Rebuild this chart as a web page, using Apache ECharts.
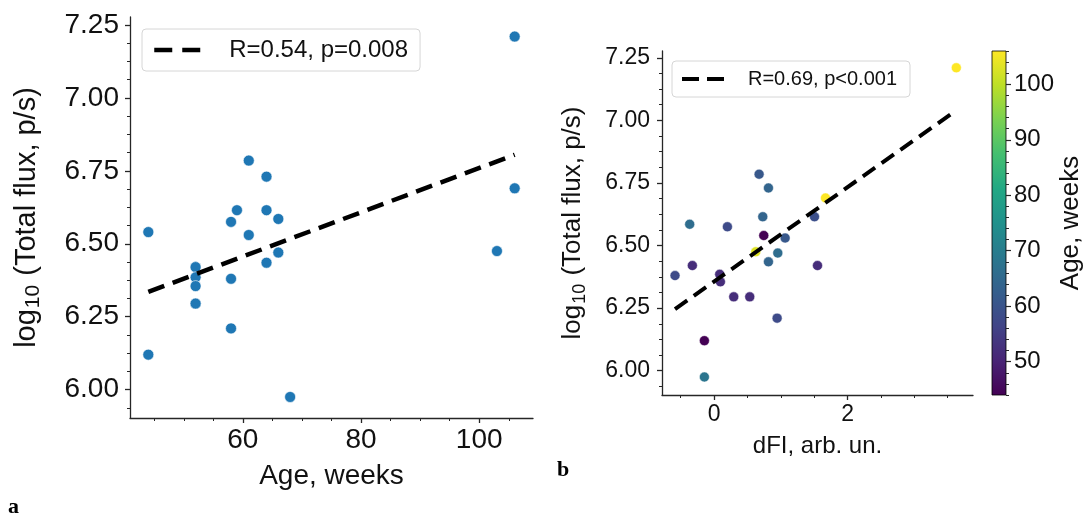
<!DOCTYPE html>
<html><head><meta charset="utf-8">
<script src="https://cdn.jsdelivr.net/npm/echarts@6/dist/echarts.min.js"></script>
<style>html,body{margin:0;padding:0;background:#fff}#c{width:1085px;height:519px}</style>
</head><body><div id="c"></div>
<script>
// ---- data ----
const ageWeeks = [106, 61, 64, 106, 64, 59, 66, 58, 44, 61, 103, 66, 64, 52, 52, 58, 52, 52, 52, 52, 58, 44, 68];
const dfi      = [3.63, 0.675, 0.815, 1.67, 0.73, 1.505, -0.365, 0.2, 0.745, 1.065, 0.625, 0.955, 0.815, -0.325, 1.55, -0.585, 0.085, 0.095, 0.295, 0.535, 0.945, -0.145, -0.145];
const logFlux  = [7.21, 6.785, 6.73, 6.69, 6.615, 6.615, 6.585, 6.575, 6.54, 6.53, 6.475, 6.47, 6.435, 6.42, 6.42, 6.38, 6.385, 6.355, 6.295, 6.295, 6.21, 6.12, 5.975];
const fitAgeX = [44, 106];
const fitAgeY = [6.335, 6.805];
const fitDfiX = [-0.585, 3.63];
const fitDfiY = [6.246, 7.04];
const legendA = 'R=0.54, p=0.008';
const legendB = 'R=0.69, p<0.001';
const yTicks = [6.00, 6.25, 6.50, 6.75, 7.00, 7.25];
const ageTicks = [60, 80, 100];
const dfiTicks = [0, 2];
const cbarTicks = [50, 60, 70, 80, 90, 100];

const viridis = ['#440154','#482475','#414487','#355f8d','#2a788e','#21918c','#22a884','#44bf70','#7ad151','#bddf26','#fde725'];
const FONT = '"Liberation Sans", Arial, sans-serif';
const INK = '#262626';

function minorTicks(lo, hi, step, majors) {
  const out = [];
  const start = Math.ceil(lo / step);
  for (let k = start; k * step <= hi + 1e-9; k++) {
    const v = +(k * step).toFixed(6);
    if (!majors.some(m => Math.abs(m - v) < 1e-9)) out.push(v);
  }
  return out;
}

const YMIN = 5.903, YMAX = 7.277;
const AXMIN = 40.9, AXMAX = 109.1;
const DXMIN = -0.78, DXMAX = 3.88;
const CMIN = 44, CMAX = 106;

function mainAxis(opts) {
  return Object.assign({
    type: 'value', splitLine: {show: false},
    axisLine: {show: true, onZero: false, lineStyle: {color: INK, width: 1.3}},
    axisTick: {show: true, length: 5, lineStyle: {color: INK, width: 1.3}},
    axisLabel: {color: '#111', fontFamily: FONT},
    nameTextStyle: {color: '#111', fontFamily: FONT}
  }, opts);
}
function minorAxis(opts) {
  return Object.assign({
    type: 'value', splitLine: {show: false},
    axisLine: {show: false, onZero: false}, axisLabel: {show: false},
    axisTick: {show: true, length: 3, lineStyle: {color: INK, width: 1}}
  }, opts);
}
function yTitle(fs, sub) {
  return {
    name: '{m|log}{s|10}{m| (Total flux, p/s)}',
    nameTextStyle: {
      color: '#111', fontFamily: FONT,
      rich: {
        m: {fontSize: fs, fontFamily: FONT, color: '#111', lineHeight: fs + 6, verticalAlign: 'middle'},
        s: {fontSize: sub, fontFamily: FONT, color: '#111', lineHeight: sub, verticalAlign: 'bottom', padding: [0, 1, 0, 1]}
      }
    }
  };
}

const gradStops = viridis.map((c, i) => ({offset: i / (viridis.length - 1), color: c}));

const option = {
  animation: false,
  backgroundColor: '#fff',
  grid: [
    {left: 130, top: 17, width: 403, height: 401},
    {left: 662, top: 51, width: 311, height: 344},
    {left: 992, top: 51, width: 17, height: 344, show: true,
     backgroundColor: new echarts.graphic.LinearGradient(0, 1, 0, 0, gradStops),
     borderColor: '#000', borderWidth: 0.8}
  ],
  xAxis: [
    mainAxis({gridIndex: 0, position: 'bottom', min: AXMIN, max: AXMAX,
      axisTick: {show: true, length: 5, customValues: ageTicks, lineStyle: {color: INK, width: 1.3}},
      axisLabel: {customValues: ageTicks, fontSize: 28, margin: 8, color: '#111', fontFamily: FONT},
      name: 'Age, weeks', nameLocation: 'middle', nameGap: 44,
      nameTextStyle: {fontSize: 28, color: '#111', fontFamily: FONT}}),
    mainAxis({gridIndex: 1, position: 'bottom', min: DXMIN, max: DXMAX,
      axisTick: {show: true, length: 5, customValues: dfiTicks, lineStyle: {color: INK, width: 1.3}},
      axisLabel: {customValues: dfiTicks, fontSize: 23, margin: 8, color: '#111', fontFamily: FONT},
      name: 'dFI, arb. un.', nameLocation: 'middle', nameGap: 39,
      nameTextStyle: {fontSize: 24, color: '#111', fontFamily: FONT}}),
    {gridIndex: 2, type: 'value', show: false, min: 0, max: 1},
    minorAxis({gridIndex: 0, position: 'bottom', min: AXMIN, max: AXMAX,
      axisTick: {show: true, length: 3, customValues: minorTicks(AXMIN, AXMAX, 5, ageTicks), lineStyle: {color: INK, width: 1}}}),
    minorAxis({gridIndex: 1, position: 'bottom', min: DXMIN, max: DXMAX,
      axisTick: {show: true, length: 3, customValues: minorTicks(DXMIN, DXMAX, 0.5, dfiTicks), lineStyle: {color: INK, width: 1}}})
  ],
  yAxis: [
    mainAxis(Object.assign({gridIndex: 0, position: 'left', min: YMIN, max: YMAX,
      axisTick: {show: true, length: 5, customValues: yTicks, lineStyle: {color: INK, width: 1.3}},
      axisLabel: {customValues: yTicks, fontSize: 28, margin: 11, color: '#111', fontFamily: FONT,
        formatter: v => v.toFixed(2)},
      nameLocation: 'middle', nameGap: 86, nameRotate: 90}, yTitle(29, 21))),
    mainAxis(Object.assign({gridIndex: 1, position: 'left', min: YMIN, max: YMAX,
      axisTick: {show: true, length: 5, customValues: yTicks, lineStyle: {color: INK, width: 1.3}},
      axisLabel: {customValues: yTicks, fontSize: 23, margin: 12, color: '#111', fontFamily: FONT,
        formatter: v => v.toFixed(2)},
      nameLocation: 'middle', nameGap: 73, nameRotate: 90}, yTitle(26, 18))),
    {gridIndex: 2, type: 'value', position: 'right', min: CMIN, max: CMAX,
      splitLine: {show: false}, axisLine: {show: false, onZero: false},
      axisTick: {show: true, length: 5, customValues: cbarTicks, lineStyle: {color: INK, width: 1.2}},
      axisLabel: {customValues: cbarTicks, fontSize: 24, margin: 8, color: '#111', fontFamily: FONT},
      name: 'Age, weeks', nameLocation: 'middle', nameGap: 52, nameRotate: 90,
      nameTextStyle: {fontSize: 26, color: '#111', fontFamily: FONT}},
    minorAxis({gridIndex: 0, position: 'left', min: YMIN, max: YMAX,
      axisTick: {show: true, length: 3, customValues: minorTicks(YMIN, YMAX, 0.0625, yTicks), lineStyle: {color: INK, width: 1}}}),
    minorAxis({gridIndex: 1, position: 'left', min: YMIN, max: YMAX,
      axisTick: {show: true, length: 3, customValues: minorTicks(YMIN, YMAX, 0.0625, yTicks), lineStyle: {color: INK, width: 1}}}),
    minorAxis({gridIndex: 2, position: 'right', min: CMIN, max: CMAX,
      axisTick: {show: true, length: 3, customValues: minorTicks(CMIN, CMAX, 2, cbarTicks), lineStyle: {color: INK, width: 1}}})
  ],
  visualMap: [{
    type: 'continuous', show: false, seriesIndex: 1, dimension: 2,
    min: CMIN, max: CMAX, inRange: {color: viridis}
  }],
  legend: [
    {data: [legendA], left: 142, top: 29, orient: 'vertical',
     backgroundColor: '#fff', borderColor: '#d6d6d6', borderWidth: 1, borderRadius: 4,
     padding: [9, 12, 9, 10], itemWidth: 48, itemHeight: 16,
     itemStyle: {opacity: 0, borderWidth: 0},
     lineStyle: {type: [18, 10], width: 4.5, color: '#000'},
     textStyle: {fontSize: 24, color: '#111', fontFamily: FONT, padding: [0, 0, 0, 22]}},
    {data: [legendB], left: 672, top: 61, orient: 'vertical',
     backgroundColor: '#fff', borderColor: '#d6d6d6', borderWidth: 1, borderRadius: 4,
     padding: [8, 13, 8, 8], itemWidth: 43, itemHeight: 14,
     itemStyle: {opacity: 0, borderWidth: 0},
     lineStyle: {type: [17, 8], width: 4, color: '#000'},
     textStyle: {fontSize: 20, color: '#111', fontFamily: FONT, padding: [0, 0, 0, 18]}}
  ],
  series: [
    {type: 'scatter', xAxisIndex: 0, yAxisIndex: 0, symbolSize: 11, z: 3,
     itemStyle: {color: '#1f77b4', borderColor: '#fff', borderWidth: 0.6, opacity: 1},
     data: ageWeeks.map((a, i) => [a, logFlux[i]])},
    {type: 'scatter', xAxisIndex: 1, yAxisIndex: 1, symbolSize: 10, z: 3,
     itemStyle: {borderColor: '#fff', borderWidth: 0.5, opacity: 1},
     data: dfi.map((d, i) => [d, logFlux[i], ageWeeks[i]])},
    {type: 'line', name: legendA, xAxisIndex: 0, yAxisIndex: 0, symbol: 'none', showSymbol: false, z: 4,
     lineStyle: {color: '#000', width: 4.5, type: [17, 9]},
     data: fitAgeX.map((x, i) => [x, fitAgeY[i]])},
    {type: 'line', name: legendB, xAxisIndex: 1, yAxisIndex: 1, symbol: 'none', showSymbol: false, z: 4,
     lineStyle: {color: '#000', width: 4, type: [15, 8]},
     data: fitDfiX.map((x, i) => [x, fitDfiY[i]])}
  ],
  graphic: [
    {type: 'text', left: 8, top: 496, style: {text: 'a', font: 'bold 22px "Liberation Serif", serif', fill: '#000'}},
    {type: 'text', left: 557, top: 459, style: {text: 'b', font: 'bold 22px "Liberation Serif", serif', fill: '#000'}}
  ]
};

const chart = echarts.init(document.getElementById('c'), null, {renderer: 'canvas'});
chart.setOption(option);
</script>
</body></html>
